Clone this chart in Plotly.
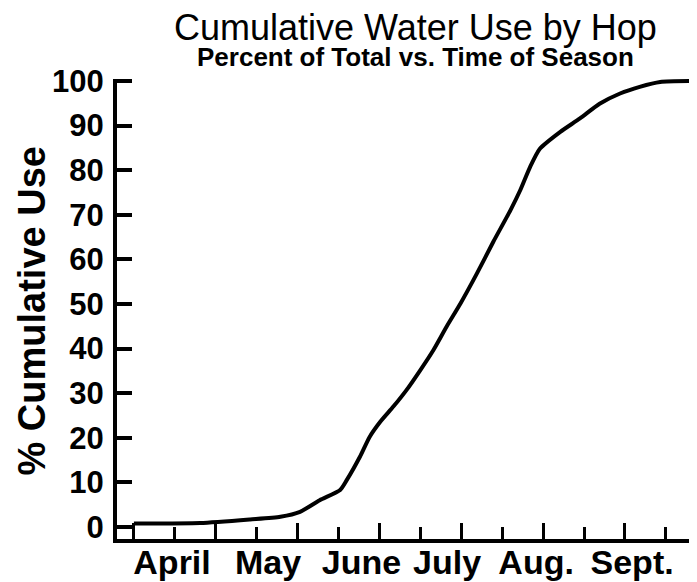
import plotly.graph_objects as go

# Season time in months after April 1 (0 = start of April)
months_elapsed = [0.0, 0.81, 1.42, 1.79, 2.03, 2.27, 2.52, 2.60, 2.76, 2.88, 3.01, 3.17, 3.33,
                  3.50, 3.66, 3.82, 3.99, 4.19, 4.39, 4.60, 4.72, 4.84, 4.96, 5.21, 5.45,
                  5.69, 5.94, 6.18, 6.43, 6.88]
cumulative_use = [0.8, 0.9, 1.7, 2.3, 3.4, 6.0, 8.3, 10.5, 15.7, 20.2, 23.6, 27.0, 30.7,
                  35.2, 39.7, 44.9, 50.1, 56.8, 63.9, 71.0, 75.5, 80.7, 84.8, 88.6, 91.6,
                  94.9, 97.2, 98.7, 99.8, 100.0]

month_labels = ["April", "May", "June", "July", "Aug.", "Sept."]
month_label_x = [0.466, 1.639, 2.780, 3.827, 4.914, 6.087]
y_ticks = [0, 10, 20, 30, 40, 50, 60, 70, 80, 90, 100]

FONT = "Liberation Sans, Arial, Helvetica, sans-serif"
X_RANGE = [-0.2065, 6.88]

fig = go.Figure()
fig.add_trace(go.Scatter(
    x=months_elapsed, y=cumulative_use, mode="lines",
    line=dict(color="black", width=4, shape="spline", smoothing=0.6),
    showlegend=False, hoverinfo="skip"))
# invisible helper trace so the label axis is drawn
fig.add_trace(go.Scatter(
    x=month_label_x, y=[None] * len(month_label_x), xaxis="x2", mode="lines",
    showlegend=False, hoverinfo="skip"))

fig.update_layout(
    width=689, height=574, autosize=False,
    margin=dict(l=109, r=0, t=71, b=43),
    paper_bgcolor="white", plot_bgcolor="white",
    font=dict(family=FONT, color="black"),
    xaxis=dict(
        range=X_RANGE, showline=True, linewidth=4, linecolor="black",
        ticks="inside", ticklen=16, tickwidth=3, tickcolor="black",
        tick0=0, dtick=1, showticklabels=False, automargin=False,
        minor=dict(ticks="inside", ticklen=12, tickwidth=3, tickcolor="black",
                   tick0=0, dtick=0.5, showgrid=False),
        showgrid=False, zeroline=False, fixedrange=True),
    xaxis2=dict(
        range=X_RANGE, overlaying="x", anchor="y", side="bottom",
        tickmode="array", tickvals=month_label_x, ticktext=month_labels,
        ticks="", showline=False, showgrid=False, zeroline=False, automargin=False,
        tickfont=dict(family=FONT, size=34, color="black", weight="bold"),
        fixedrange=True),
    yaxis=dict(
        range=[-2.69, 100.45], showline=True, linewidth=4, linecolor="black",
        ticks="inside", ticklen=15, tickwidth=3.5, tickcolor="black",
        tickmode="array", tickvals=y_ticks, automargin=False,
        ticklabelstandoff=3,
        tickfont=dict(family=FONT, size=31, color="black", weight="bold"),
        showgrid=False, zeroline=False, fixedrange=True),
    annotations=[
        dict(text="Cumulative Water Use by Hop", xref="paper", yref="paper",
             x=0.5145, y=1.112, xanchor="center", yanchor="middle", showarrow=False,
             font=dict(family=FONT, size=36, color="black")),
        dict(text="Percent of Total vs. Time of Season", xref="paper", yref="paper",
             x=0.515, y=1.0485, xanchor="center", yanchor="middle", showarrow=False,
             font=dict(family=FONT, size=26, color="black", weight="bold")),
        dict(text="% Cumulative Use", xref="paper", yref="paper",
             x=-0.1474, y=0.4957, xanchor="center", yanchor="middle", showarrow=False,
             textangle=-90,
             font=dict(family=FONT, size=38, color="black", weight="bold")),
    ],
)

fig.write_html("out.html")
